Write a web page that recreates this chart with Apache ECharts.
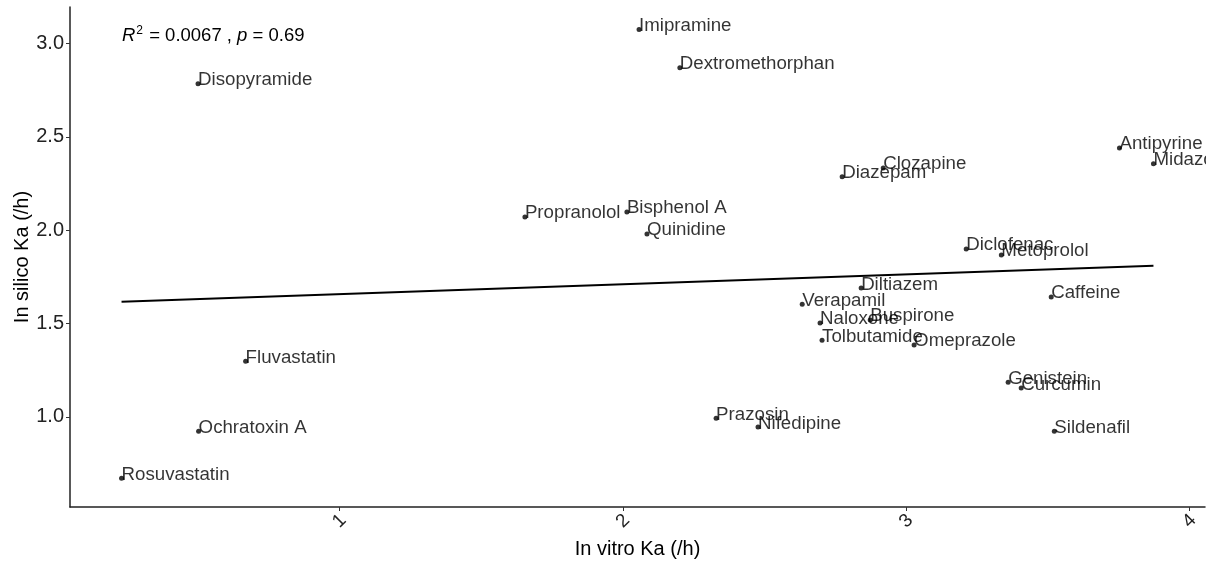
<!DOCTYPE html>
<html>
<head>
<meta charset="utf-8">
<script src="https://cdn.jsdelivr.net/npm/echarts@6/dist/echarts.min.js"></script>
<style>
  html, body { margin: 0; padding: 0; background: #fff; }
  #chart { width: 1206px; height: 561px; }
</style>
</head>
<body>
<div id="chart"></div>
<script>
// compounds, in vitro Ka (x) and in silico Ka (y)
var drugs = ['Imipramine', 'Dextromethorphan', 'Disopyramide', 'Antipyrine', 'Midazolam',
  'Clozapine', 'Diazepam', 'Propranolol', 'Bisphenol A', 'Quinidine', 'Diclofenac',
  'Metoprolol', 'Diltiazem', 'Caffeine', 'Verapamil', 'Naloxone', 'Buspirone',
  'Tolbutamide', 'Omeprazole', 'Genistein', 'Curcumin', 'Fluvastatin', 'Prazosin',
  'Nifedipine', 'Sildenafil', 'Ochratoxin A', 'Rosuvastatin'];
var invitroKa = [2.057, 2.201, 0.500, 3.753, 3.873, 2.919, 2.774, 1.654, 2.014, 2.085, 3.212,
  3.336, 2.841, 3.512, 2.633, 2.696, 2.873, 2.703, 3.028, 3.360, 3.406, 0.668, 2.329,
  2.477, 3.523, 0.502, 0.230];
var insilicoKa = [3.075, 2.871, 2.785, 2.441, 2.356, 2.334, 2.286, 2.071, 2.098, 1.980, 1.900,
  1.867, 1.690, 1.642, 1.604, 1.503, 1.519, 1.411, 1.385, 1.186, 1.154, 1.298, 0.993,
  0.945, 0.923, 0.923, 0.671];

// lm fit line ends
var fitX = [0.230, 3.873];
var fitY = [1.617, 1.810];

var xTicks = [1, 2, 3, 4];
var yTicks = [1.0, 1.5, 2.0, 2.5, 3.0];

var font = 'Liberation Sans, Arial, sans-serif';
var ink = '#000';
var axisInk = '#222';

var points = drugs.map(function(d, i) { return [invitroKa[i], insilicoKa[i], d]; });

var chart = echarts.init(document.getElementById('chart'), null, { renderer: 'canvas' });
chart.setOption({
  animation: false,
  backgroundColor: '#fff',
  grid: { left: 70, right: 1, top: 7, bottom: 54, containLabel: false, outerBoundsMode: 'none' },
  xAxis: {
    type: 'value',
    min: 0.048,
    max: 4.055,
    name: 'In vitro Ka (/h)',
    nameLocation: 'middle',
    nameGap: 32,
    nameMoveOverlap: false,
    nameTextStyle: { fontFamily: font, fontSize: 20, color: ink },
    axisLine: { show: true, lineStyle: { color: axisInk, width: 1.5 } },
    axisTick: { show: true, length: 4, customValues: xTicks, lineStyle: { color: '#333' } },
    axisLabel: {
      customValues: xTicks, rotate: 45, margin: 14,
      align: 'center', verticalAlign: 'middle',
      fontFamily: font, fontSize: 19, color: '#222',
      formatter: function(v) { return String(v); }
    },
    splitLine: { show: false }
  },
  yAxis: {
    type: 'value',
    min: 0.517,
    max: 3.196,
    name: 'In silico Ka (/h)',
    nameLocation: 'middle',
    nameRotate: 90,
    nameGap: 38,
    nameMoveOverlap: false,
    nameTextStyle: { fontFamily: font, fontSize: 20, color: ink },
    axisLine: { show: true, lineStyle: { color: axisInk, width: 1.5 } },
    axisTick: { show: true, length: 4, customValues: yTicks, lineStyle: { color: '#333' } },
    axisLabel: {
      customValues: yTicks, margin: 6,
      fontFamily: font, fontSize: 20, color: '#222',
      formatter: function(v) { return v.toFixed(1); }
    },
    splitLine: { show: false }
  },
  graphic: [{
    type: 'text',
    left: 122,
    top: 25,
    style: {
      text: '{i|R}{s|2}{n| = 0.0067 , }{i|p}{n| = 0.69}',
      rich: {
        i: { fontFamily: font, fontSize: 18.5, fontStyle: 'italic', fill: ink },
        s: { fontFamily: font, fontSize: 12, fill: ink, verticalAlign: 'top', padding: [0, 1, 10, 1] },
        n: { fontFamily: font, fontSize: 18.5, fill: ink }
      }
    }
  }],
  series: [{
    type: 'line',
    data: [[fitX[0], fitY[0]], [fitX[1], fitY[1]]],
    symbol: 'none',
    lineStyle: { color: '#000', width: 2 },
    z: 2
  }, {
    type: 'scatter',
    data: points,
    symbol: 'circle',
    symbolSize: 5,
    itemStyle: { color: '#000' },
    label: {
      show: true,
      position: [2.5, -1.2],
      align: 'left',
      verticalAlign: 'middle',
      fontFamily: font,
      fontSize: 18.7,
      color: ink,
      formatter: function(p) { return p.data[2]; }
    },
    labelLayout: { hideOverlap: false },
    z: 3
  }]
});
window.addEventListener('resize', function() { chart.resize(); });
</script>
</body>
</html>
